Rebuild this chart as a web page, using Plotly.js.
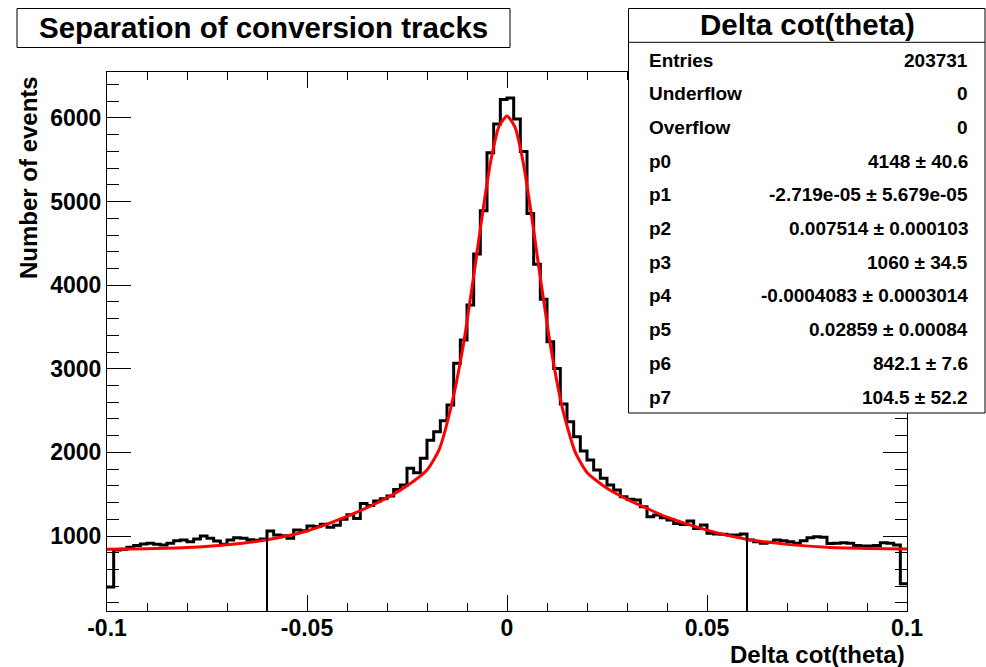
<!DOCTYPE html>
<html>
<head>
<meta charset="utf-8">
<script src="https://cdn.plot.ly/plotly-3.0.1.min.js"></script>
<style>
  html, body { margin: 0; padding: 0; background: #ffffff; }
  #chart { width: 986px; height: 667px; }
</style>
</head>
<body>
<div id="chart"></div>
<script>
// ---------------- data ----------------
const binLow = -0.1;
const binHigh = 0.1;
const counts = [
  390, 833, 841, 865, 885, 905, 912, 900, 893, 912,
  944, 952, 932, 964, 1000, 972, 940, 900, 952, 980,
  972, 956, 948, 964, 1060, 1012, 1004, 972, 1072, 1064,
  1120, 1115, 1140, 1105, 1130, 1200, 1255, 1210, 1390, 1365,
  1420, 1445, 1480, 1555, 1610, 1809, 1757, 1929, 2145, 2248,
  2380, 2567, 3065, 3344, 3763, 4373, 4890, 5585, 5928, 6220,
  6240, 5987, 5600, 4859, 4249, 3831, 3324, 3005, 2579, 2367,
  2188, 2017, 1909, 1789, 1690, 1610, 1550, 1470, 1440, 1431,
  1351, 1231, 1251, 1219, 1191, 1151, 1139, 1179, 1091, 1131,
  1032, 1024, 1020, 1012, 1012, 1024, 952, 932, 913, 924,
  952, 944, 932, 913, 944, 980, 992, 984, 909, 913,
  920, 913, 885, 881, 881, 885, 920, 912, 893, 430
];

const fitX = [-0.1, -0.09, -0.08, -0.07, -0.06, -0.05, -0.04, -0.035, -0.03, -0.025,
  -0.02, -0.017, -0.014, -0.011, -0.008, -0.006, -0.004, -0.002, 0,
  0.002, 0.004, 0.006, 0.008, 0.011, 0.014, 0.017, 0.02, 0.025, 0.03,
  0.035, 0.04, 0.05, 0.06, 0.07, 0.08, 0.09, 0.1];
const fitY = [842, 848, 862, 895, 955, 1060, 1235, 1340, 1455, 1600,
  1790, 2030, 2540, 3260, 4220, 4900, 5500, 5900, 6025,
  5890, 5480, 4880, 4200, 3240, 2500, 2010, 1760, 1570, 1440,
  1330, 1225, 1070, 960, 900, 866, 852, 845];

const cutX = [-0.06, 0.06];
const cutTop = [1065, 1030];

const xTickVals = [-0.1, -0.05, 0, 0.05, 0.1];
const xTickText = ["-0.1", "-0.05", "0", "0.05", "0.1"];

const yRange = [103, 6550];

const statLabels = ["Entries", "Underflow", "Overflow", "p0", "p1", "p2", "p3", "p4", "p5", "p6", "p7"];
const statValues = ["203731", "0", "0", "4148 \u00b1 40.6", "-2.719e-05 \u00b1 5.679e-05",
  "0.007514 \u00b1 0.000103", "1060 \u00b1 34.5", "-0.0004083 \u00b1 0.0003014",
  "0.02859 \u00b1 0.00084", "842.1 \u00b1 7.6", "104.5 \u00b1 52.2"];

const titleText = "Separation of conversion tracks";
const statTitle = "Delta cot(theta)";
const xTitle = "Delta cot(theta)";
const yTitle = "Number of events";

// ---------------- build traces ----------------
const nb = counts.length;
const edges = [];
for (let k = 0; k <= nb; k++) edges.push(binLow + k * (binHigh - binLow) / nb);
const stepY = counts.concat([counts[nb - 1]]);

const histTrace = {
  type: 'scatter', mode: 'lines', x: edges, y: stepY,
  line: { shape: 'hv', color: '#000000', width: 3 },
  hoverinfo: 'skip', showlegend: false
};

const cutXs = [], cutYs = [];
cutX.forEach((cx, i) => { cutXs.push(cx, cx, null); cutYs.push(yRange[0], cutTop[i], null); });
const cutTrace = {
  type: 'scatter', mode: 'lines', x: cutXs, y: cutYs,
  line: { color: '#000000', width: 2 }, hoverinfo: 'skip', showlegend: false
};

const fitTrace = {
  type: 'scatter', mode: 'lines', x: fitX, y: fitY,
  line: { shape: 'spline', smoothing: 0.6, color: '#ff0000', width: 3 },
  hoverinfo: 'skip', showlegend: false
};

// ---------------- layout ----------------
const L = 107, R = 907, T = 72, B = 611;
const P = px => (px - L) / (R - L);
const Q = py => (B - py) / (B - T);
const FONT = 'Liberation Sans, Arial, Helvetica, sans-serif';

const annotations = [];
annotations.push({ xref: 'paper', yref: 'paper', x: P(263), y: Q(28), text: titleText,
  showarrow: false, xanchor: 'center', yanchor: 'middle',
  font: { family: FONT, size: 29.5, weight: 'bold', color: '#000' } });
annotations.push({ xref: 'paper', yref: 'paper', x: P(807), y: Q(24), text: statTitle,
  showarrow: false, xanchor: 'center', yanchor: 'middle',
  font: { family: FONT, size: 29.5, weight: 'bold', color: '#000' } });
statLabels.forEach((lab, i) => {
  const yc = 60 + i * 33.7;
  annotations.push({ xref: 'paper', yref: 'paper', x: P(647), y: Q(yc), text: lab,
    showarrow: false, xanchor: 'left', yanchor: 'middle',
    font: { family: FONT, size: 19, weight: 'bold', color: '#000' } });
  annotations.push({ xref: 'paper', yref: 'paper', x: P(970), y: Q(yc), text: statValues[i],
    showarrow: false, xanchor: 'right', yanchor: 'middle',
    font: { family: FONT, size: 19, weight: 'bold', color: '#000' } });
});
annotations.push({ xref: 'paper', yref: 'paper', x: P(907), y: Q(654), text: xTitle,
  showarrow: false, xanchor: 'right', yanchor: 'middle',
  font: { family: FONT, size: 24, weight: 'bold', color: '#000' } });
annotations.push({ xref: 'paper', yref: 'paper', x: P(28), y: Q(178), text: yTitle,
  showarrow: false, xanchor: 'center', yanchor: 'middle', textangle: -90,
  font: { family: FONT, size: 24, weight: 'bold', color: '#000' } });

const shapes = [
  { type: 'rect', xref: 'paper', yref: 'paper', x0: P(17), x1: P(510), y0: Q(8.5), y1: Q(47.5),
    line: { color: '#000', width: 1 }, fillcolor: '#ffffff', layer: 'above' },
  { type: 'rect', xref: 'paper', yref: 'paper', x0: P(628.5), x1: P(985), y0: Q(8.5), y1: Q(413),
    line: { color: '#000', width: 1 }, fillcolor: '#ffffff', layer: 'above' },
  { type: 'line', xref: 'paper', yref: 'paper', x0: P(628.5), x1: P(985), y0: Q(42.3), y1: Q(42.3),
    line: { color: '#000', width: 1 }, layer: 'above' }
];

const axisCommon = {
  showline: true, linecolor: '#000', linewidth: 1, mirror: 'allticks',
  showgrid: false, zeroline: false, ticks: 'inside', tickcolor: '#000', tickwidth: 1,
  tickfont: { family: FONT, size: 23, weight: 'bold', color: '#000' },
  automargin: false, fixedrange: true
};

const layout = {
  width: 986, height: 667,
  margin: { l: L, r: 986 - R, t: T, b: 667 - B, pad: 0 },
  paper_bgcolor: '#ffffff', plot_bgcolor: '#ffffff',
  showlegend: false,
  xaxis: Object.assign({}, axisCommon, {
    range: [binLow, binHigh], tickmode: 'array', tickvals: xTickVals, ticktext: xTickText,
    ticklen: 16, ticklabelstandoff: -4,
    minor: { tickmode: 'linear', tick0: 0, dtick: 0.01, ticklen: 8, ticks: 'inside', tickcolor: '#000', tickwidth: 1, showgrid: false }
  }),
  yaxis: Object.assign({}, axisCommon, {
    range: yRange, tickmode: 'linear', tick0: 0, dtick: 1000, ticklen: 24,
    minor: { tickmode: 'linear', tick0: 0, dtick: 200, ticklen: 12, ticks: 'inside', tickcolor: '#000', tickwidth: 1, showgrid: false }
  }),
  shapes: shapes,
  annotations: annotations
};

Plotly.newPlot('chart', [histTrace, fitTrace, cutTrace], layout, { displayModeBar: false, staticPlot: true });
</script>
</body>
</html>
